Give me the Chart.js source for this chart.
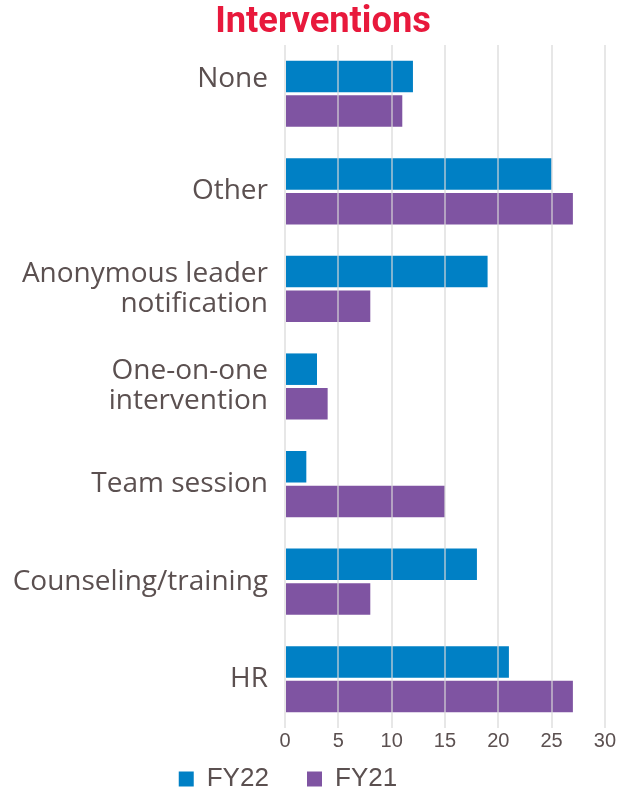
<!DOCTYPE html>
<html>
<head>
<meta charset="utf-8">
<script src="https://cdn.jsdelivr.net/npm/chart.js@4"></script>
<style>
  html, body { margin: 0; padding: 0; background: #ffffff; }
  #wrap { width: 617px; height: 794px; }
</style>
</head>
<body>
<div id="wrap"><canvas id="chart" width="617" height="794"></canvas></div>
<script>
const chartTitle = 'Interventions';
// the empty second line lifts "None" above its bars, as in the original
const categories = [
  ['None', ''],
  'Other',
  ['Anonymous leader', 'notification'],
  ['One-on-one', 'intervention'],
  'Team session',
  'Counseling/training',
  'HR'
];
const fy22 = [12, 25, 19, 3, 2, 18, 21];
const fy21 = [11, 27, 8, 4, 15, 8, 27];
const xTicks = [0, 5, 10, 15, 20, 25, 30];

const textColor = '#5b5050';

// title drawn by hand so it sits where the original has it
const titlePlugin = {
  id: 'placedTitle',
  afterDraw(chart) {
    const c = chart.ctx;
    c.save();
    c.font = 'bold 37px Roboto';
    c.fillStyle = '#e8193c';
    c.textAlign = 'center';
    c.textBaseline = 'alphabetic';
    c.translate(323, 32);
    c.scale(0.98, 1);
    c.fillText(chartTitle, 0, 0);
    c.restore();
  }
};

const ctx = document.getElementById('chart').getContext('2d');
new Chart(ctx, {
  type: 'bar',
  data: {
    labels: categories,
    datasets: [{
      label: 'FY22     ',
      data: fy22,
      backgroundColor: '#0080c5',
      categoryPercentage: 0.71,
      barPercentage: 0.91
    }, {
      label: 'FY21     ',
      data: fy21,
      backgroundColor: '#7f54a2',
      categoryPercentage: 0.71,
      barPercentage: 0.91
    }]
  },
  options: {
    indexAxis: 'y',
    responsive: false,
    animation: false,
    layout: { padding: { left: 6, right: 11, top: 45, bottom: 0 } },
    scales: {
      x: {
        min: 0,
        max: 30,
        afterBuildTicks: (axis) => { axis.ticks = xTicks.map(v => ({ value: v })); },
        afterFit: (axis) => { axis.height = 36; },
        grid: { color: 'rgba(215,215,215,0.6)', lineWidth: 2, drawTicks: false, z: 1 },
        border: { display: false },
        ticks: { color: textColor, font: { family: 'Liberation Sans', size: 20 }, padding: 1 }
      },
      y: {
        afterFit: (axis) => { axis.width = 279; },
        grid: { display: false, drawTicks: false },
        border: { display: false },
        ticks: {
          color: textColor,
          padding: 17,
          font: { family: 'Open Sans', size: 28, lineHeight: 1.07 }
        }
      }
    },
    plugins: {
      title: { display: false },
      legend: {
        position: 'bottom',
        maxHeight: 30,
        labels: {
          color: textColor,
          boxWidth: 15,
          boxHeight: 15,
          padding: 2,
          font: { family: 'Liberation Sans', size: 26, lineHeight: 1 }
        }
      },
      tooltip: { enabled: false }
    }
  },
  plugins: [titlePlugin]
});
</script>
</body>
</html>
